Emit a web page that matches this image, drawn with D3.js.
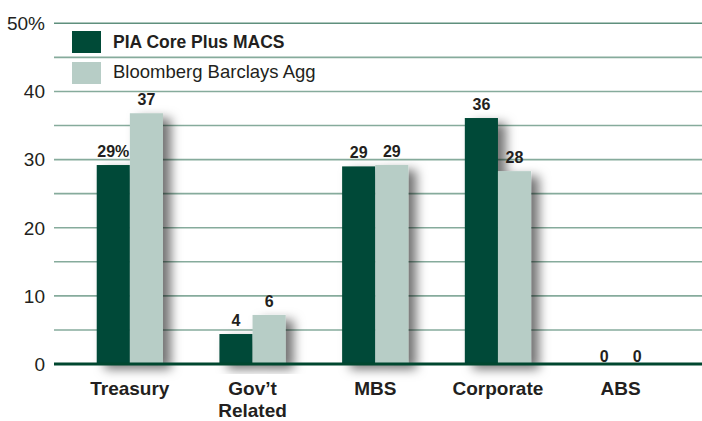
<!DOCTYPE html>
<html>
<head>
<meta charset="utf-8">
<script src="https://cdn.jsdelivr.net/npm/d3@7"></script>
<style>
  html, body { margin: 0; padding: 0; background: #fff; overflow: hidden; }
  svg { display: block; font-family: 'Liberation Sans', Arial, sans-serif; }
</style>
</head>
<body>
<div id="chart"></div>
<script>
const categories = ['Treasury', "Gov’t\nRelated", 'MBS', 'Corporate', 'ABS'];
const seriesNames = ['PIA Core Plus MACS', 'Bloomberg Barclays Agg'];
// bar heights, labels as printed
const piaValues = [29.2, 4.4, 29, 36.1, 0];
const aggValues = [36.8, 7.2, 29.2, 28.3, 0];
const piaLabels = ['29%', '4', '29', '36', '0'];
const aggLabels = ['37', '6', '29', '28', '0'];
const yTicks = [0, 10, 20, 30, 40, 50];
const gridTicks = [5, 10, 15, 20, 25, 30, 35, 40, 45, 50];

const W = 702, H = 421;
const plot = { left: 54, right: 702, top: 23.3, bottom: 364 };
const colors = { pia: '#004a37', agg: '#b7cdc6', grid: '#86ab9c', axis: '#00472f', text: '#231f20' };

const svg = d3.select('#chart').append('svg').attr('width', W).attr('height', H);

const defs = svg.append('defs');
defs.append('filter').attr('id', 'shadow')
    .attr('x', '-20%').attr('y', '-20%').attr('width', '160%').attr('height', '140%')
    .append('feDropShadow')
    .attr('dx', 8).attr('dy', 5).attr('stdDeviation', 5.5)
    .attr('flood-color', '#000').attr('flood-opacity', 0.55);

const y = d3.scaleLinear().domain([0, 50]).range([plot.bottom, plot.top]);
const x = d3.scaleBand().domain(categories).range([68.5, 682])
    .paddingInner(0.46).paddingOuter(0.23);
const xSub = d3.scaleBand().domain(seriesNames).range([0, x.bandwidth()]);

// gridlines
svg.append('g').selectAll('line').data(gridTicks).enter().append('line')
    .attr('x1', plot.left).attr('x2', plot.right)
    .attr('y1', d => y(d)).attr('y2', d => y(d))
    .attr('stroke', d => d === 50 ? '#5f8f7d' : colors.grid)
    .attr('stroke-width', 1.6);

// y tick labels
svg.append('g').selectAll('text').data(yTicks).enter().append('text')
    .attr('x', 45).attr('y', d => y(d))
    .attr('dy', '0.36em')
    .attr('text-anchor', 'end')
    .attr('font-size', '19px')
    .attr('fill', colors.text)
    .text(d => d === 50 ? '50%' : d);

// legend
const legend = svg.append('g');
[0, 1].forEach(i => {
    legend.append('rect')
        .attr('x', 72).attr('y', 31 + i * 31)
        .attr('width', 29).attr('height', 22)
        .attr('fill', i === 0 ? colors.pia : colors.agg);
    legend.append('text')
        .attr('x', 113).attr('y', 48 + i * 30)
        .attr('font-size', i === 0 ? '17.5px' : '18.5px')
        .attr('font-weight', i === 0 ? 'bold' : 'normal')
        .attr('fill', colors.text)
        .text(seriesNames[i]);
});

// bars
const groups = svg.append('g').selectAll('g').data(categories).enter().append('g')
    .attr('transform', d => `translate(${x(d)},0)`);

groups.each(function (cat, i) {
    const grp = d3.select(this);
    const vals = [piaValues[i], aggValues[i]];
    const labs = [piaLabels[i], aggLabels[i]];
    const bars = grp.append('g').attr('filter', vals[0] + vals[1] > 0 ? 'url(#shadow)' : null);
    seriesNames.forEach((s, j) => {
        bars.append('rect')
            .attr('x', xSub(s)).attr('y', y(vals[j]))
            .attr('width', xSub.bandwidth())
            .attr('height', y(0) - y(vals[j]))
            .attr('fill', j === 0 ? colors.pia : colors.agg);
        grp.append('text')
            .attr('x', xSub(s) + xSub.bandwidth() / 2)
            .attr('y', y(vals[j]) - (vals[j] > 0 ? 8 : 2))
            .attr('text-anchor', 'middle')
            .attr('font-size', '16px').attr('font-weight', 'bold')
            .attr('fill', colors.text)
            .text(labs[j]);
    });
});

// zero axis
svg.append('line')
    .attr('x1', plot.left).attr('x2', plot.right)
    .attr('y1', y(0)).attr('y2', y(0))
    .attr('stroke', colors.axis).attr('stroke-width', 3);

// category labels
const catLabels = svg.append('g').selectAll('text').data(categories).enter().append('text')
    .attr('x', d => x(d) + x.bandwidth() / 2)
    .attr('y', 395)
    .attr('text-anchor', 'middle')
    .attr('font-size', '19px').attr('font-weight', 'bold')
    .attr('fill', colors.text);
catLabels.each(function (d) {
    const t = d3.select(this);
    d.split('\n').forEach((line, k) => {
        t.append('tspan').attr('x', x(d) + x.bandwidth() / 2)
            .attr('dy', k === 0 ? 0 : 22).text(line);
    });
});
</script>
</body>
</html>
